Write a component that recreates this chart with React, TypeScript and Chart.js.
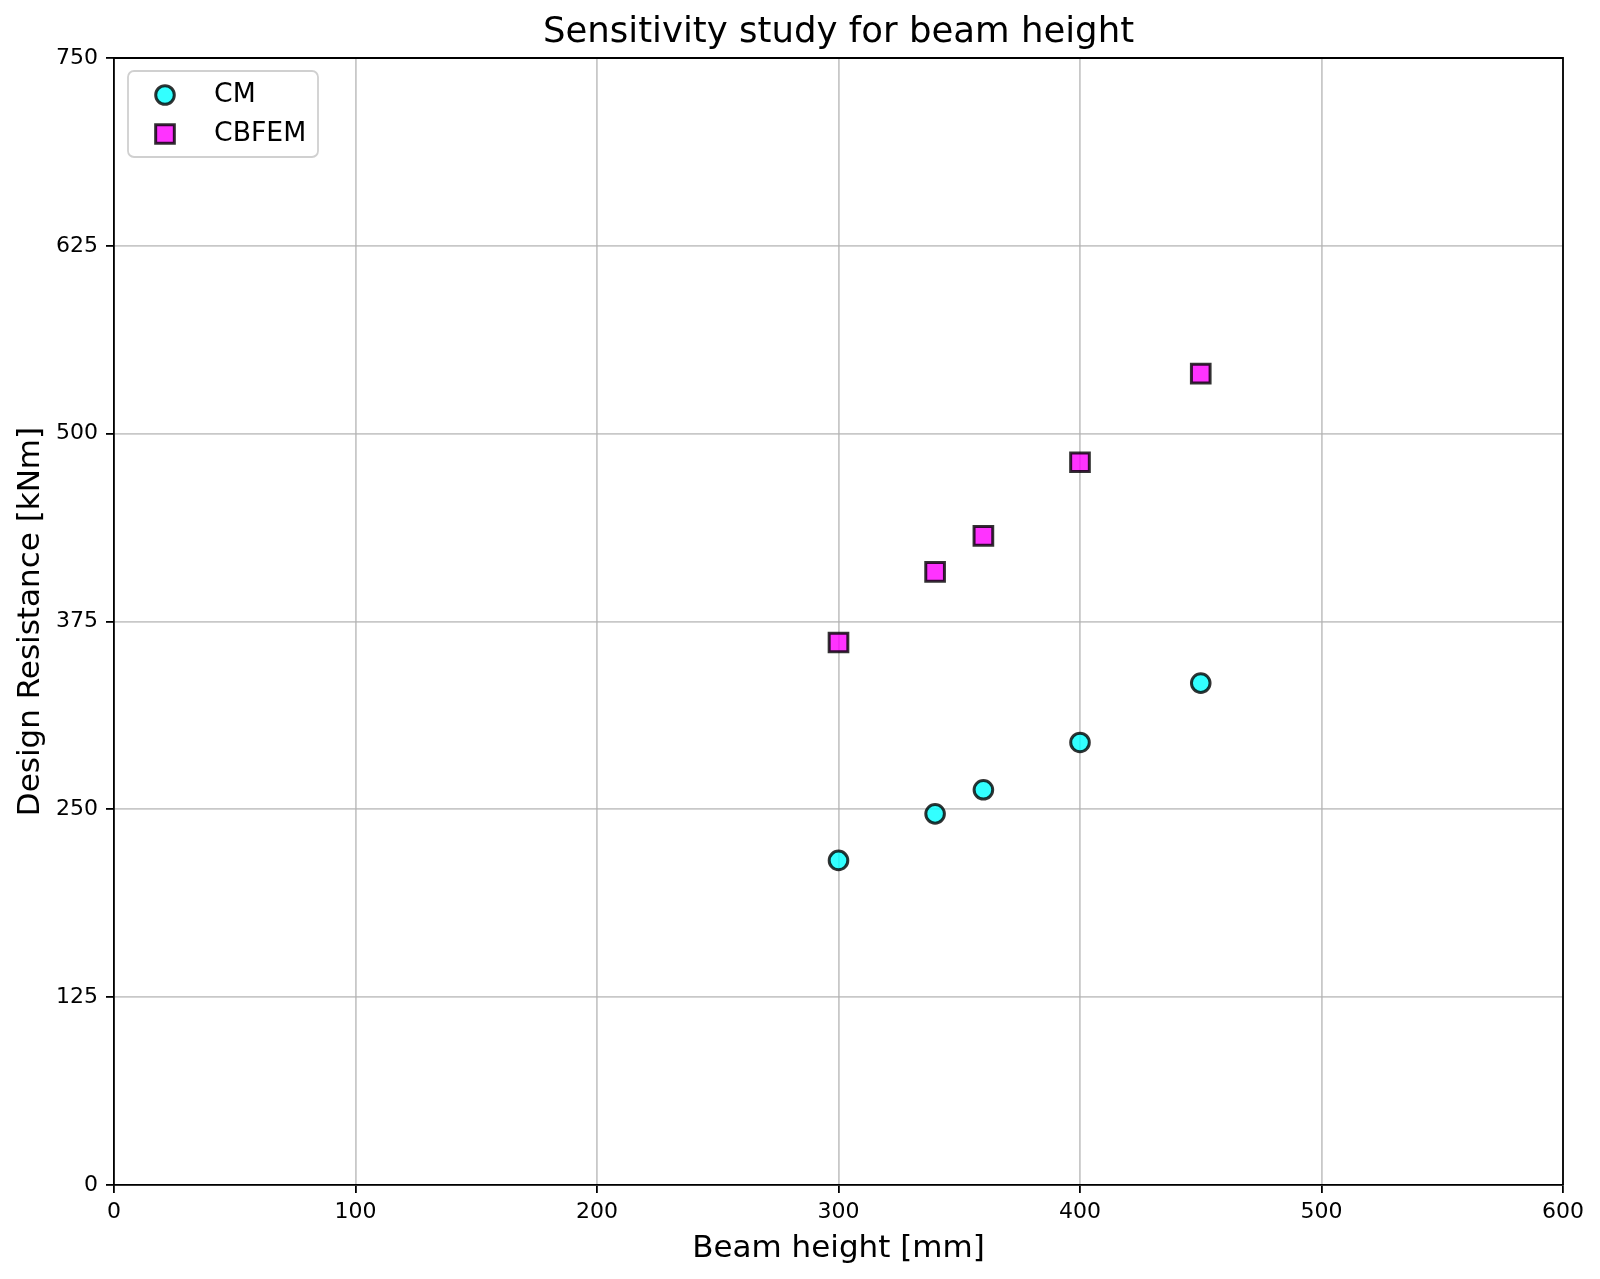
import { useEffect, useRef } from "react"
import { Chart, registerables } from "chart.js"
import { drawPoint } from "chart.js/helpers"

Chart.register(...registerables)

const beamHeights = [300, 340, 360, 400, 450]
const cmValues = [216, 247, 263, 294.5, 334]
const cbfemValues = [361, 408, 432, 481, 540]
const xTicks = [0, 100, 200, 300, 400, 500, 600]
const yTicks = [0, 125, 250, 375, 500, 625, 750]

const FONT = "'DejaVu Sans', 'Noto Sans', sans-serif"

// matplotlib-like closed frame: draw the top and right spines too
const framePlugin = {
  id: "frame",
  afterDatasetsDraw(chart: any) {
    const { ctx, chartArea } = chart
    ctx.save()
    ctx.strokeStyle = "#000"
    ctx.lineWidth = 1.8
    ctx.beginPath()
    ctx.moveTo(chartArea.left, chartArea.top)
    ctx.lineTo(chartArea.right, chartArea.top)
    ctx.lineTo(chartArea.right, chartArea.bottom)
    ctx.stroke()
    ctx.restore()
  },
}

// legend box in the upper left corner of the plot area
const legendPlugin = {
  id: "innerLegend",
  afterDraw(chart: any) {
    const { ctx, chartArea } = chart
    const x = chartArea.left + 14
    const y = chartArea.top + 13
    ctx.save()
    ctx.beginPath()
    ctx.roundRect(x, y, 190, 86, 6)
    ctx.fillStyle = "rgba(255,255,255,0.8)"
    ctx.fill()
    ctx.strokeStyle = "#d0d0d0"
    ctx.lineWidth = 1.8
    ctx.stroke()

    chart.data.datasets.forEach((ds: any, i: number) => {
      const cy = y + 24 + i * 39
      ctx.fillStyle = ds.backgroundColor
      ctx.strokeStyle = ds.borderColor
      ctx.lineWidth = ds.borderWidth
      drawPoint(ctx, { pointStyle: ds.pointStyle, rotation: 0, radius: ds.pointRadius, borderWidth: ds.borderWidth }, x + 37, cy)
      ctx.fillStyle = "#000"
      ctx.font = `26.7px ${FONT}`
      ctx.textAlign = "left"
      ctx.textBaseline = "middle"
      ctx.fillText(ds.label, x + 86, cy)
    })
    ctx.restore()
  },
}

export default function App() {
  const chartRef = useRef<HTMLCanvasElement>(null)
  const chartInstance = useRef<Chart | null>(null)

  useEffect(() => {
    if (!chartRef.current) return
    if (chartInstance.current) chartInstance.current.destroy()

    const ctx = chartRef.current.getContext("2d")
    if (!ctx) return

    Chart.defaults.color = "#000"
    Chart.defaults.font.family = FONT

    chartInstance.current = new Chart(ctx, {
      type: "scatter",
      data: {
        datasets: [
          {
            label: "CM",
            data: beamHeights.map((h, i) => ({ x: h, y: cmValues[i] })),
            backgroundColor: "rgba(0,255,255,0.8)",
            borderColor: "rgba(0,0,0,0.8)",
            borderWidth: 3,
            pointStyle: "circle",
            pointRadius: 9.3,
            pointHoverRadius: 9.3,
          },
          {
            label: "CBFEM",
            data: beamHeights.map((h, i) => ({ x: h, y: cbfemValues[i] })),
            backgroundColor: "rgba(255,0,255,0.8)",
            borderColor: "rgba(0,0,0,0.8)",
            borderWidth: 3,
            pointStyle: "rect",
            pointRadius: 13.2,
            pointHoverRadius: 13.2,
          },
        ],
      },
      options: {
        animation: false,
        responsive: true,
        maintainAspectRatio: false,
        layout: { padding: { top: 0, right: 37, bottom: 0, left: 0 } },
        plugins: {
          legend: { display: false },
          tooltip: { enabled: false },
          title: {
            display: true,
            fullSize: false,
            text: "Sensitivity study for beam height",
            color: "#000",
            font: { size: 35.5, weight: "normal", family: FONT, lineHeight: 1.2 },
            padding: { top: 11.7, bottom: 3.7 },
          },
        },
        scales: {
          x: {
            type: "linear",
            min: 0,
            max: 600,
            afterBuildTicks: (scale: any) => {
              scale.ticks = xTicks.map((v) => ({ value: v }))
            },
            afterFit: (scale: any) => {
              scale.height = 94
            },
            ticks: { font: { size: 22, family: FONT }, padding: 6, color: "#000" },
            grid: {
              color: "rgba(176,176,176,0.7)",
              lineWidth: 1.8,
              tickColor: "#000",
              tickWidth: 1.8,
              tickLength: 8,
            },
            border: { color: "#000", width: 1.8 },
            title: {
              display: true,
              text: "Beam height [mm]",
              color: "#000",
              font: { size: 31, family: FONT, lineHeight: 1.2 },
              padding: { top: 0, bottom: 11.4 },
            },
          },
          y: {
            type: "linear",
            min: 0,
            max: 750,
            afterBuildTicks: (scale: any) => {
              scale.ticks = yTicks.map((v) => ({ value: v }))
            },
            afterFit: (scale: any) => {
              scale.width = 114
            },
            ticks: { font: { size: 22, family: FONT }, padding: 8, color: "#000" },
            grid: {
              color: "rgba(176,176,176,0.7)",
              lineWidth: 1.8,
              tickColor: "#000",
              tickWidth: 1.8,
              tickLength: 8,
            },
            border: { color: "#000", width: 1.8 },
            title: {
              display: true,
              text: "Design Resistance [kNm]",
              color: "#000",
              font: { size: 31, family: FONT, lineHeight: 1.2 },
              padding: { top: 12, bottom: 0 },
            },
          },
        },
      },
      plugins: [framePlugin, legendPlugin],
    } as any)

    return () => {
      if (chartInstance.current) {
        chartInstance.current.destroy()
        chartInstance.current = null
      }
    }
  }, [])

  return (
    <div style={{ position: "absolute", left: 0, top: 0, width: 1600, height: 1279, background: "#fff" }}>
      <canvas ref={chartRef} />
    </div>
  )
}
